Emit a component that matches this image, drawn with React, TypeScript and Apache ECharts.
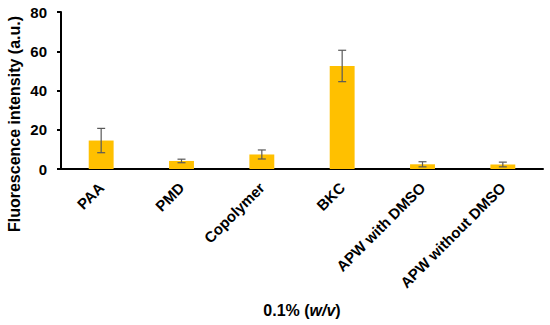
import React, { useEffect, useRef } from "react";
import * as echarts from "echarts";

const categories = ["PAA", "PMD", "Copolymer", "BKC", "APW with DMSO", "APW without DMSO"];
const values = [14.5, 4.1, 7.4, 52.5, 2.4, 2.3];
const errors = [6.2, 0.9, 2.3, 8.0, 1.3, 1.2];
const yTicks = [0, 20, 40, 60, 80];
const yTitle = "Fluorescence intensity (a.u.)";

export default function App() {
  const ref = useRef<HTMLDivElement>(null);
  useEffect(() => {
    if (!ref.current) return;
    const chart = echarts.init(ref.current, undefined, { renderer: "svg" });
    const font = "'Liberation Sans', Arial, sans-serif";
    chart.setOption({
      animation: false,
      grid: { left: 61, top: 12, right: 7, bottom: 156, containLabel: false, outerBoundsMode: "none" },
      graphic: [
        {
          type: "text",
          x: 14,
          y: 124,
          rotation: Math.PI / 2,
          style: {
            text: yTitle,
            align: "center",
            verticalAlign: "middle",
            fill: "#000",
            font: `bold 16px ${font}`,
          },
        },
      ],
      xAxis: {
        type: "category",
        data: categories,
        axisLine: { lineStyle: { color: "#000", width: 2 } },
        axisTick: { inside: true, length: 3, lineStyle: { color: "#000", width: 2 } },
        axisLabel: {
          rotate: 45,
          interval: 0,
          margin: 16,
          color: "#000",
          fontWeight: "bold",
          fontSize: 15,
          fontFamily: font,
        },
        name: "0.1% ({i|w/v})",
        nameLocation: "middle",
        nameGap: 133,
        nameTextStyle: {
          color: "#000",
          fontWeight: "bold",
          fontSize: 16,
          fontFamily: font,
          rich: {
            i: { fontStyle: "italic", fontWeight: "bold", fontSize: 16, fontFamily: font, color: "#000" },
          },
        },
      },
      yAxis: {
        type: "value",
        min: yTicks[0],
        max: yTicks[yTicks.length - 1],
        interval: 20,
        splitLine: { show: false },
        axisLine: { show: true, lineStyle: { color: "#000", width: 2 } },
        axisTick: { show: true, length: 4, lineStyle: { color: "#000", width: 2 } },
        axisLabel: { color: "#000", fontWeight: "bold", fontSize: 15, fontFamily: font, margin: 14 },
      },
      series: [
        {
          type: "bar",
          data: values,
          barWidth: "31%",
          itemStyle: { color: "#FFC000" },
        },
        {
          type: "custom",
          data: values.map((v, i) => [i, v - errors[i], v + errors[i]]),
          renderItem: (params: any, api: any) => {
            const x = api.value(0);
            const lo = api.coord([x, api.value(1)]);
            const hi = api.coord([x, api.value(2)]);
            const hw = 4;
            const style = { stroke: "#595959", lineWidth: 1.2 };
            return {
              type: "group",
              children: [
                { type: "line", shape: { x1: lo[0], y1: lo[1], x2: hi[0], y2: hi[1] }, style },
                { type: "line", shape: { x1: lo[0] - hw, y1: lo[1], x2: lo[0] + hw, y2: lo[1] }, style },
                { type: "line", shape: { x1: hi[0] - hw, y1: hi[1], x2: hi[0] + hw, y2: hi[1] }, style },
              ],
            };
          },
          z: 10,
        },
      ],
    });
    return () => chart.dispose();
  }, []);
  return <div ref={ref} style={{ width: 550, height: 325, position: "absolute", left: 0, top: 0 }} />;
}
